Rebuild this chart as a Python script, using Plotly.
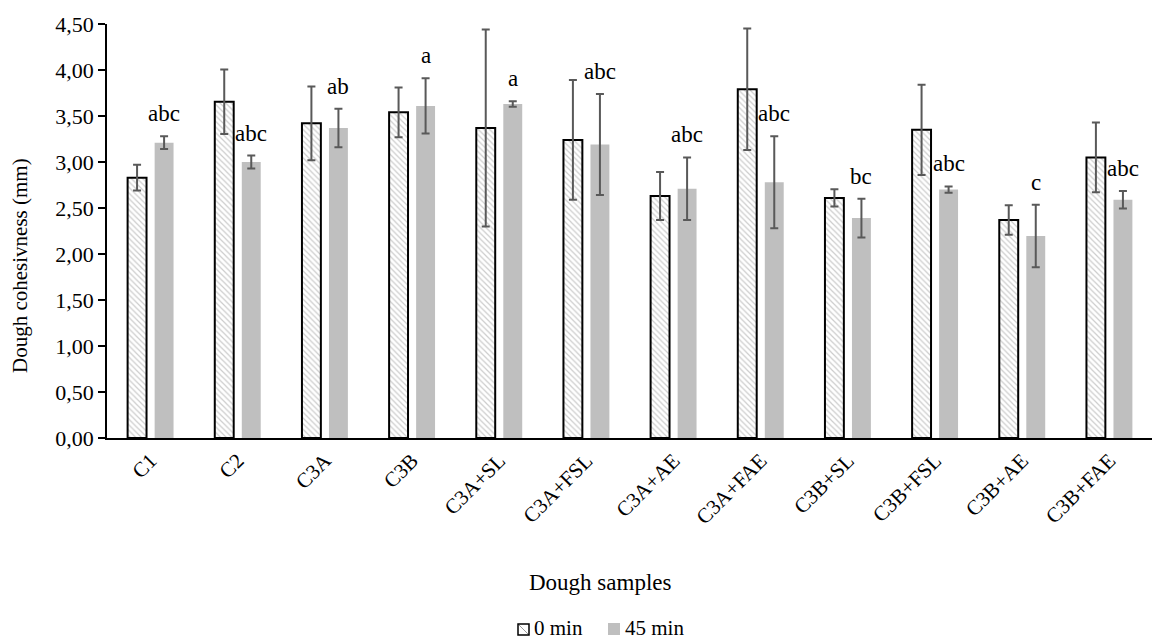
import plotly.graph_objects as go

categories = ["C1", "C2", "C3A", "C3B", "C3A+SL", "C3A+FSL", "C3A+AE", "C3A+FAE",
              "C3B+SL", "C3B+FSL", "C3B+AE", "C3B+FAE"]
min0 = [2.83, 3.655, 3.42, 3.54, 3.37, 3.24, 2.63, 3.79, 2.61, 3.35, 2.37, 3.05]
min0_err = [0.14, 0.35, 0.40, 0.27, 1.07, 0.65, 0.26, 0.66, 0.095, 0.49, 0.16, 0.38]
min45 = [3.21, 3.00, 3.37, 3.61, 3.63, 3.19, 2.71, 2.78, 2.39, 2.70, 2.195, 2.59]
min45_err = [0.07, 0.07, 0.21, 0.30, 0.03, 0.55, 0.34, 0.50, 0.21, 0.035, 0.34, 0.095]
letters = ["abc", "abc", "ab", "a", "a", "abc", "abc", "abc", "bc", "abc", "c", "abc"]
series_names = ["0 min", "45 min"]

FONT = "Liberation Serif"
OFF = 8  # page body margin
W, H = 1160 - OFF, 642 - OFF
L, R, T, B = 107 - OFF, 7, 24 - OFF, 204
PW, PH = W - L - R, H - T - B


def px(x):
    return (x - OFF - L) / PW


def py(y):
    return (H - B - (y - OFF)) / PH


fig = go.Figure()
fig.add_trace(go.Bar(
    name=series_names[0], x=categories, y=min0,
    marker=dict(color="white", line=dict(color="black", width=2),
                pattern=dict(shape="\\", fgcolor="#9a9a9a", bgcolor="white", size=4, solidity=0.3)),
    error_y=dict(type="data", array=min0_err, visible=True, color="#595959", thickness=2, width=4),
))
fig.add_trace(go.Bar(
    name=series_names[1], x=categories, y=min45,
    marker=dict(color="#bfbfbf", line=dict(width=0)),
    error_y=dict(type="data", array=min45_err, visible=True, color="#595959", thickness=2, width=4),
))

annotations = []
for c, v, e, t in zip(categories, min45, min45_err, letters):
    annotations.append(dict(x=c, y=v + e, text=t, showarrow=False, xref="x", yref="y",
                            xshift=13.5, yshift=8, yanchor="bottom",
                            font=dict(family=FONT, size=23, color="black")))
annotations.append(dict(x=px(600), y=py(582), xref="paper", yref="paper", text="Dough samples",
                        showarrow=False, yanchor="middle", xanchor="center",
                        font=dict(family=FONT, size=23, color="black")))
annotations.append(dict(x=px(20), y=py(266), xref="paper", yref="paper",
                        text="Dough cohesivness (mm)", textangle=-90,
                        showarrow=False, yanchor="middle", xanchor="center",
                        font=dict(family=FONT, size=21, color="black")))
annotations.append(dict(x=px(532), y=py(628), xref="paper", yref="paper", text=series_names[0],
                        showarrow=False, xanchor="left", yanchor="middle",
                        font=dict(family=FONT, size=21, color="black")))
annotations.append(dict(x=px(623), y=py(628), xref="paper", yref="paper", text=series_names[1],
                        showarrow=False, xanchor="left", yanchor="middle",
                        font=dict(family=FONT, size=21, color="black")))

shapes = [
    dict(type="rect", xref="paper", yref="paper", x0=px(518), x1=px(529), y0=py(635), y1=py(624),
         line=dict(color="black", width=1.5), fillcolor="white"),
    dict(type="line", xref="paper", yref="paper", x0=px(519), x1=px(528), y0=py(625), y1=py(634),
         line=dict(color="#9a9a9a", width=1)),
    dict(type="rect", xref="paper", yref="paper", x0=px(608), x1=px(620), y0=py(635), y1=py(623),
         line=dict(width=0), fillcolor="#bfbfbf"),
]

fig.update_layout(
    width=W, height=H,
    margin=dict(l=L, r=R, t=T, b=B, autoexpand=False),
    paper_bgcolor="white", plot_bgcolor="white",
    separators=",.",
    barmode="group", bargap=0.38, bargroupgap=0.30,
    font=dict(family=FONT, size=20, color="black"),
    showlegend=False,
    annotations=annotations,
    shapes=shapes,
    yaxis=dict(range=[0, 4.5], dtick=0.5, tickformat=".2f", showgrid=False,
               showline=True, linecolor="black", linewidth=1.5, ticks="outside",
               ticklen=7, tickcolor="black", tickwidth=1.5, zeroline=False,
               automargin=False, tickfont=dict(family=FONT, size=22)),
    xaxis=dict(showline=True, linecolor="black", linewidth=2, ticks="", showgrid=False,
               automargin=False, tickangle=-45, tickfont=dict(family=FONT, size=21)),
)

fig.write_html("out.html")
